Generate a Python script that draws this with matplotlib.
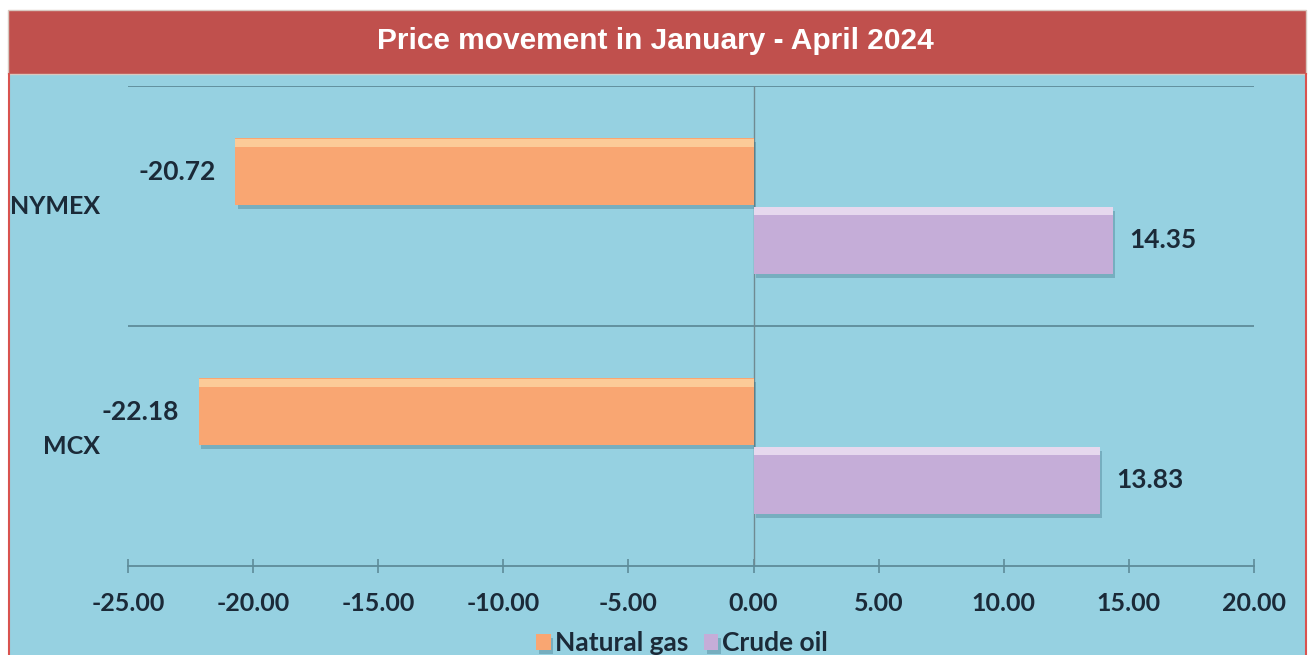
import matplotlib
matplotlib.use("Agg")
import matplotlib.pyplot as plt
import matplotlib.patches as mpatches
import matplotlib.patheffects as pe
import numpy as np

categories = ["MCX", "NYMEX"]
natural_gas = [-22.18, -20.72]
crude_oil = [13.83, 14.35]
xticks = [-25, -20, -15, -10, -5, 0, 5, 10, 15, 20]
title = "Price movement in January - April 2024"

W, H = 1310, 655
fig = plt.figure(figsize=(W / 100, H / 100), dpi=100)
fig.patch.set_facecolor("white")

def fx(px):
    return px / W

def fy(py):
    return 1 - py / H

# blue panel
fig.add_artist(mpatches.Rectangle((fx(8), 0), fx(1306 - 8), fy(74), transform=fig.transFigure,
                                  facecolor="#96D1E1", edgecolor="none", zorder=0))
# red borders left/right
fig.add_artist(plt.Line2D([fx(8.5), fx(8.5)], [0, fy(74)], transform=fig.transFigure, color="#D9534F", lw=1.5))
fig.add_artist(plt.Line2D([fx(1305.5), fx(1305.5)], [0, fy(74)], transform=fig.transFigure, color="#D9534F", lw=1.5))
# title banner
fig.add_artist(mpatches.Rectangle((fx(8), fy(74)), fx(1306 - 8), fy(10) - fy(74), transform=fig.transFigure,
                                  facecolor="#C0504D", edgecolor="#D8C8C0", lw=1, zorder=1))
fig.text(0.5, fy(41), title, ha="center", va="center", color="white", fontsize=21.5,
         fontweight="bold", family="Liberation Sans")

ax = fig.add_axes([fx(128), fy(566), fx(1254 - 128), fy(86) - fy(566)])
ax.set_facecolor("none")
y = np.arange(len(categories))
h = 0.28
off = 0.143
ng_col = "#F9A672"
co_col = "#C5ADD8"
shadow = [pe.SimplePatchShadow(offset=(2, -3), shadow_rgbFace="#3d6f80", alpha=0.35), pe.Normal()]
b1 = ax.barh(y + off, natural_gas, height=h, color=ng_col, edgecolor="none", lw=0, zorder=3,
             path_effects=shadow, label="Natural gas")
b2 = ax.barh(y - off, crude_oil, height=h, color=co_col, edgecolor="none", lw=0, zorder=3,
             path_effects=shadow, label="Crude oil")
# highlights
ax.barh(y + off + h * 0.43, natural_gas, height=h * 0.12, color="#FCCB98", lw=0, zorder=4)
ax.barh(y - off + h * 0.43, crude_oil, height=h * 0.12, color="#E6D8EE", lw=0, zorder=4)

ax.set_xlim(-25, 20)
ax.set_ylim(-0.5, 1.5)

lbl_font = dict(family="Lato", fontweight="bold", fontsize=19, color="#1B2A38")
for yi, v in zip(y, natural_gas):
    ax.annotate(f"{v:.2f}", (v, yi + off), xytext=(-14, 0), textcoords="offset points",
                ha="right", va="center", **lbl_font)
for yi, v in zip(y, crude_oil):
    ax.annotate(f"{v:.2f}", (v, yi - off), xytext=(12, 0), textcoords="offset points",
                ha="left", va="center", **lbl_font)

# grid lines at category boundaries
for gy in [0.5, 1.5]:
    ax.axhline(gy, color="#5E8C99", lw=1.3, zorder=1)
ax.axvline(0, color="#6F8A92", lw=1, zorder=2)

for s in ["top", "right", "left"]:
    ax.spines[s].set_visible(False)
ax.spines["bottom"].set_color("#5E8C99")
ax.spines["bottom"].set_linewidth(1.3)
ax.set_xticks(xticks)
ax.set_xticklabels([f"{t:.2f}" for t in xticks])
ax.tick_params(axis="x", direction="inout", length=10, color="#5E8C99", width=1.2, pad=14)
for t in ax.get_xticklabels():
    t.set_family("Lato"); t.set_fontweight("bold"); t.set_fontsize(18); t.set_color("#1B2A38")
ax.set_yticks([])
for yi, c in zip(y, categories):
    ax.text(fx(100), ax.transData.transform((0, yi))[1] / H, c, transform=fig.transFigure,
            ha="right", va="center", family="Lato", fontweight="bold", fontsize=18, color="#1B2A38")

leg = fig.legend(handles=[b1, b2], loc="center", bbox_to_anchor=(fx(682), fy(643)), ncol=2, frameon=False,
                 prop=dict(family="Lato", weight="bold", size=19), handlelength=0.55, handleheight=0.55,
                 handletextpad=0.15, columnspacing=0.6)
for t in leg.get_texts():
    t.set_color("#1B2A38")

fig.savefig("out.png", dpi=100, facecolor=fig.get_facecolor())
